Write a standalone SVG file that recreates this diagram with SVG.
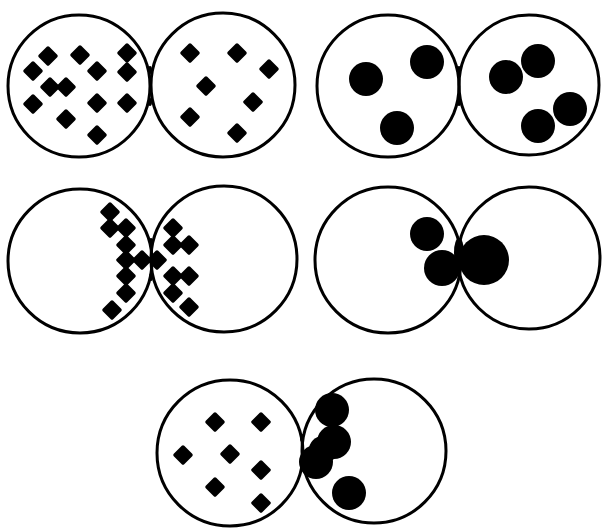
<svg xmlns="http://www.w3.org/2000/svg" xmlns:xlink="http://www.w3.org/1999/xlink" width="605" height="529" viewBox="0 0 605 529">
<style>
.c{fill:none;stroke:#000;stroke-width:3}
.b{fill:#000}
.m{fill:#000}
</style>
<defs>
<path id="d" d="M0,-8 L8,0 L0,8 L-8,0 Z" fill="#000" stroke="#000" stroke-width="3.5" stroke-linejoin="round"/>
</defs>
<rect width="605" height="529" fill="#fff"/>
<g id="panel1">
<circle class="c" cx="79" cy="86" r="71"/>
<circle class="c" cx="223" cy="85" r="72"/>
<ellipse class="m" cx="150" cy="70" rx="2" ry="4"/>
<ellipse class="m" cx="150" cy="102" rx="2" ry="4"/>
<use xlink:href="#d" x="48" y="56"/>
<use xlink:href="#d" x="80" y="55"/>
<use xlink:href="#d" x="127" y="53"/>
<use xlink:href="#d" x="33" y="71"/>
<use xlink:href="#d" x="97" y="71"/>
<use xlink:href="#d" x="127" y="72"/>
<use xlink:href="#d" x="50" y="87"/>
<use xlink:href="#d" x="66" y="87"/>
<use xlink:href="#d" x="33" y="104"/>
<use xlink:href="#d" x="97" y="103"/>
<use xlink:href="#d" x="127" y="103"/>
<use xlink:href="#d" x="66" y="119"/>
<use xlink:href="#d" x="97" y="135"/>
<use xlink:href="#d" x="190" y="53"/>
<use xlink:href="#d" x="237" y="53"/>
<use xlink:href="#d" x="269" y="69"/>
<use xlink:href="#d" x="206" y="86"/>
<use xlink:href="#d" x="253" y="102"/>
<use xlink:href="#d" x="190" y="117"/>
<use xlink:href="#d" x="237" y="133"/>
</g>
<g id="panel2">
<circle class="c" cx="388" cy="86" r="71"/>
<circle class="c" cx="529" cy="85" r="70"/>
<ellipse class="m" cx="459" cy="70" rx="2" ry="4"/>
<ellipse class="m" cx="459" cy="102" rx="2" ry="4"/>
<circle class="b" cx="366" cy="79" r="17"/>
<circle class="b" cx="427" cy="62" r="17"/>
<circle class="b" cx="397" cy="128" r="17"/>
<circle class="b" cx="506" cy="77" r="17"/>
<circle class="b" cx="538" cy="61" r="17"/>
<circle class="b" cx="570" cy="109" r="17"/>
<circle class="b" cx="538" cy="126" r="17"/>
</g>
<g id="panel3">
<circle class="c" cx="80" cy="261" r="72"/>
<circle class="c" cx="224" cy="259" r="73"/>
<ellipse class="m" cx="151" cy="242" rx="2" ry="4"/>
<ellipse class="m" cx="151" cy="277" rx="2" ry="4"/>
<use xlink:href="#d" x="110" y="212"/>
<use xlink:href="#d" x="110" y="228"/>
<use xlink:href="#d" x="126" y="228"/>
<use xlink:href="#d" x="126" y="245"/>
<use xlink:href="#d" x="126" y="260"/>
<use xlink:href="#d" x="142" y="260"/>
<use xlink:href="#d" x="157" y="260"/>
<use xlink:href="#d" x="126" y="276"/>
<use xlink:href="#d" x="126" y="293"/>
<use xlink:href="#d" x="112" y="310"/>
<use xlink:href="#d" x="173" y="228"/>
<use xlink:href="#d" x="173" y="245"/>
<use xlink:href="#d" x="189" y="245"/>
<use xlink:href="#d" x="173" y="276"/>
<use xlink:href="#d" x="189" y="276"/>
<use xlink:href="#d" x="173" y="293"/>
<use xlink:href="#d" x="189" y="307"/>
</g>
<g id="panel4">
<circle class="c" cx="388" cy="260" r="73"/>
<circle class="c" cx="529" cy="258" r="71"/>
<circle class="b" cx="427" cy="234" r="17"/>
<circle class="b" cx="442" cy="268" r="18"/>
<circle class="b" cx="484" cy="260" r="25"/>
<ellipse class="b" cx="459" cy="252" rx="5" ry="14"/>
</g>
<g id="panel5">
<circle class="c" cx="230" cy="453" r="73"/>
<circle class="c" cx="374" cy="451" r="72"/>
<ellipse class="m" cx="302" cy="438" rx="2" ry="4"/>
<use xlink:href="#d" x="215" y="422"/>
<use xlink:href="#d" x="261" y="422"/>
<use xlink:href="#d" x="183" y="455"/>
<use xlink:href="#d" x="230" y="454"/>
<use xlink:href="#d" x="261" y="470"/>
<use xlink:href="#d" x="215" y="487"/>
<use xlink:href="#d" x="261" y="503"/>
<circle class="b" cx="332" cy="410" r="17"/>
<circle class="b" cx="334" cy="442" r="17"/>
<circle class="b" cx="316" cy="462" r="17"/>
<circle class="b" cx="323" cy="450" r="14"/>
<circle class="b" cx="349" cy="493" r="17"/>
</g>
</svg>
